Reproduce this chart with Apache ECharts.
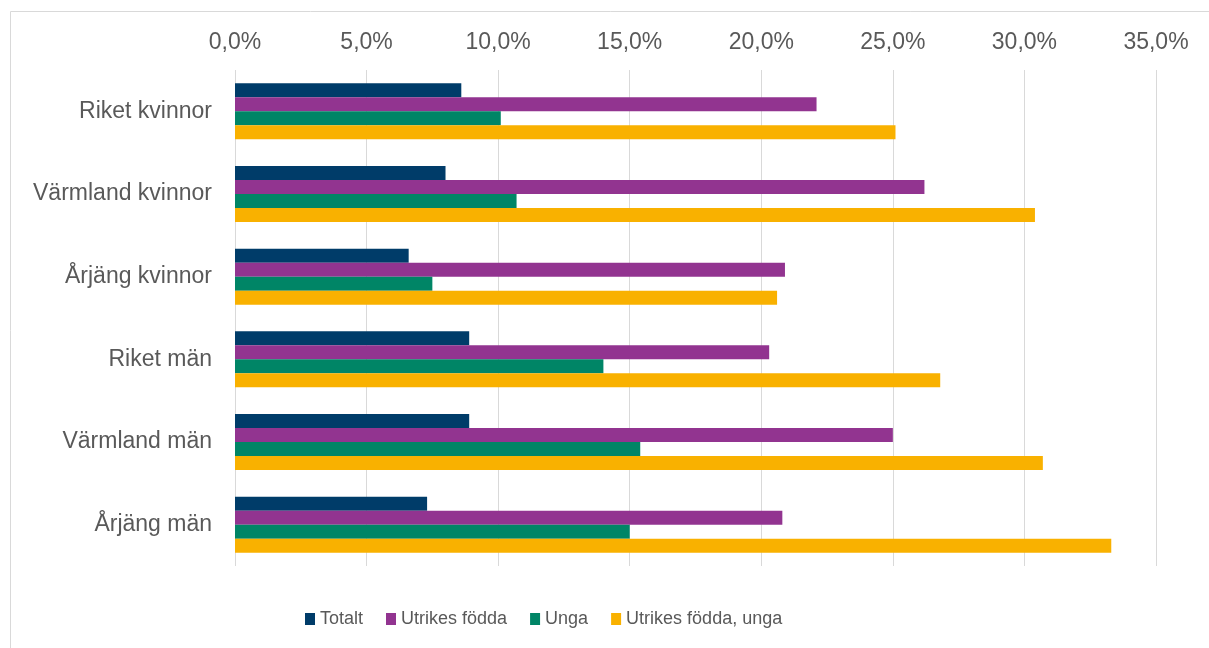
<!DOCTYPE html>
<html>
<head>
<meta charset="utf-8">
<script src="https://cdn.jsdelivr.net/npm/echarts@6/dist/echarts.min.js"></script>
<style>
  html, body { margin: 0; padding: 0; background: #fff; }
  #chart { width: 1209px; height: 648px; }
</style>
</head>
<body>
<div id="chart"></div>
<script>
// kategorier uppifrån och ner
var categories = ["Riket kvinnor", "Värmland kvinnor", "Årjäng kvinnor", "Riket män", "Värmland män", "Årjäng män"];
var seriesNames = ["Totalt", "Utrikes födda", "Unga", "Utrikes födda, unga"];
// värden i procent
var totalt = [8.6, 8.0, 6.6, 8.9, 8.9, 7.3];
var utrikesFodda = [22.1, 26.2, 20.9, 20.3, 25.0, 20.8];
var unga = [10.1, 10.7, 7.5, 14.0, 15.4, 15.0];
var utrikesFoddaUnga = [25.1, 30.4, 20.6, 26.8, 30.7, 33.3];
var colors = ["#003c69", "#923490", "#008566", "#f9b100"];

var font = "'Liberation Sans', Arial, sans-serif";
var myChart = echarts.init(document.getElementById("chart"));

function bar(name, data) {
  return {
    name: name,
    type: "bar",
    barWidth: 14,
    barGap: "0%",
    data: data
  };
}

var option = {
  animation: false,
  color: colors,
  textStyle: { fontFamily: font },
  graphic: [
    {
      type: "rect",
      silent: true,
      shape: { x: 10.5, y: 11.5, width: 1300, height: 700 },
      style: { fill: "none", stroke: "#d9d9d9", lineWidth: 1 }
    }
  ],
  grid: {
    left: 235,
    right: 53,
    top: 70,
    bottom: 82
  },
  legend: {
    left: 300,
    top: 605,
    itemWidth: 10,
    itemHeight: 12,
    itemGap: 23,
    icon: "rect",
    textStyle: { fontSize: 18, color: "#595959", fontFamily: font },
    data: seriesNames
  },
  xAxis: {
    type: "value",
    position: "top",
    min: 0,
    max: 35,
    interval: 5,
    axisLine: { show: false },
    axisTick: { show: false },
    axisLabel: {
      margin: 16,
      fontSize: 23,
      color: "#595959",
      fontFamily: font,
      formatter: function(v) {
        return v.toFixed(1).replace(".", ",") + "%";
      }
    },
    splitLine: { lineStyle: { color: "#d9d9d9", width: 1 } }
  },
  yAxis: {
    type: "category",
    inverse: true,
    data: categories,
    axisLine: { show: false },
    axisTick: { show: false },
    axisLabel: {
      margin: 23,
      fontSize: 23,
      color: "#595959",
      fontFamily: font
    }
  },
  series: [
    bar(seriesNames[0], totalt),
    bar(seriesNames[1], utrikesFodda),
    bar(seriesNames[2], unga),
    bar(seriesNames[3], utrikesFoddaUnga)
  ]
};

myChart.setOption(option);
</script>
</body>
</html>
